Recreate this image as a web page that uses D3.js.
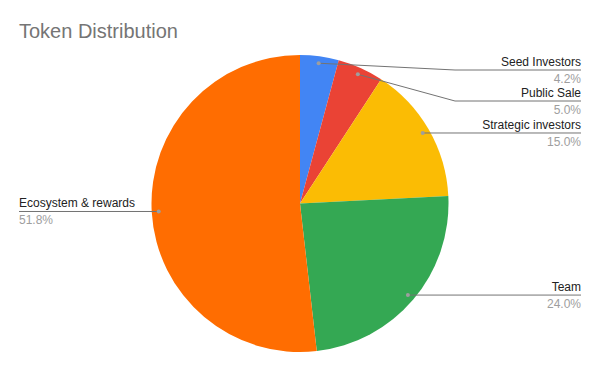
<!DOCTYPE html>
<html>
<head>
<meta charset="utf-8">
<script src="https://cdn.jsdelivr.net/npm/d3@7"></script>
<style>
  body { margin: 0; background: #fff; }
  svg { display: block; font-family: "Liberation Sans", Arial, sans-serif; }
</style>
</head>
<body>
<div id="chart"></div>
<script>
// data
const categories = ["Seed Investors", "Public Sale", "Strategic investors", "Team", "Ecosystem & rewards"];
const values = [4.2, 5.0, 15.0, 24.0, 51.8];
const colors = ["#4285F4", "#EA4335", "#FBBC04", "#34A853", "#FF6D01"];

const width = 600, height = 371;
const cx = 300, cy = 203.5, radius = 148.5;

const svg = d3.select("#chart")
  .append("svg")
  .attr("width", width)
  .attr("height", height);

svg.append("text")
  .attr("x", 19)
  .attr("y", 38)
  .attr("font-size", 20)
  .attr("fill", "#757575")
  .text("Token Distribution");

const pie = d3.pie().sort(null).value((d) => d.value);
const rows = categories.map((c, i) => ({ name: c, value: values[i], color: colors[i] }));
const arcs = pie(rows);

const arc = d3.arc().innerRadius(0).outerRadius(radius);
const dotArc = d3.arc().innerRadius(radius * 0.953).outerRadius(radius * 0.953);

const g = svg.append("g").attr("transform", `translate(${cx}, ${cy})`);

g.selectAll(".slice")
  .data(arcs)
  .join("path")
  .attr("class", "slice")
  .attr("d", arc)
  .attr("fill", (d) => d.data.color);

// label layout: right side pushed down so labels don't overlap
const right = [], left = [];
arcs.forEach((d) => {
  const [x, y] = dotArc.centroid(d);
  const item = { d, x: x + cx, y: y + cy };
  const mid = (d.startAngle + d.endAngle) / 2;
  (mid < Math.PI ? right : left).push(item);
});

const topLimit = 70, gap = 31;
let prev = -Infinity;
right.sort((a, b) => a.y - b.y).forEach((it) => {
  it.ly = Math.max(it.y, topLimit, prev + gap);
  prev = it.ly;
});
left.forEach((it) => { it.ly = it.y; });

const lineColor = "#737373";
const rightEnd = 581, leftStart = 19, elbowX = 455;

right.forEach((it) => {
  const pts = Math.abs(it.ly - it.y) > 0.5
    ? [[it.x, it.y], [elbowX, it.ly], [rightEnd, it.ly]]
    : [[it.x, it.y], [rightEnd, it.ly]];
  svg.append("path")
    .attr("d", d3.line()(pts))
    .attr("fill", "none")
    .attr("stroke", lineColor)
    .attr("stroke-width", 1);
  svg.append("text")
    .attr("x", rightEnd)
    .attr("y", it.ly - 4)
    .attr("text-anchor", "end")
    .attr("font-size", 12)
    .attr("fill", "#222")
    .text(it.d.data.name);
  svg.append("text")
    .attr("x", rightEnd)
    .attr("y", it.ly + 13)
    .attr("text-anchor", "end")
    .attr("font-size", 12)
    .attr("fill", "#9e9e9e")
    .text(it.d.data.value.toFixed(1) + "%");
});

left.forEach((it) => {
  svg.append("path")
    .attr("d", d3.line()([[leftStart, it.ly], [it.x, it.y]]))
    .attr("fill", "none")
    .attr("stroke", lineColor)
    .attr("stroke-width", 1);
  svg.append("text")
    .attr("x", leftStart)
    .attr("y", it.ly - 4)
    .attr("font-size", 12)
    .attr("fill", "#222")
    .text(it.d.data.name);
  svg.append("text")
    .attr("x", leftStart)
    .attr("y", it.ly + 13)
    .attr("font-size", 12)
    .attr("fill", "#9e9e9e")
    .text(it.d.data.value.toFixed(1) + "%");
});

// dots
svg.selectAll(".dot")
  .data(right.concat(left))
  .join("circle")
  .attr("class", "dot")
  .attr("cx", (d) => d.x)
  .attr("cy", (d) => d.y)
  .attr("r", 2)
  .attr("fill", "#9e9e9e");
</script>
</body>
</html>
